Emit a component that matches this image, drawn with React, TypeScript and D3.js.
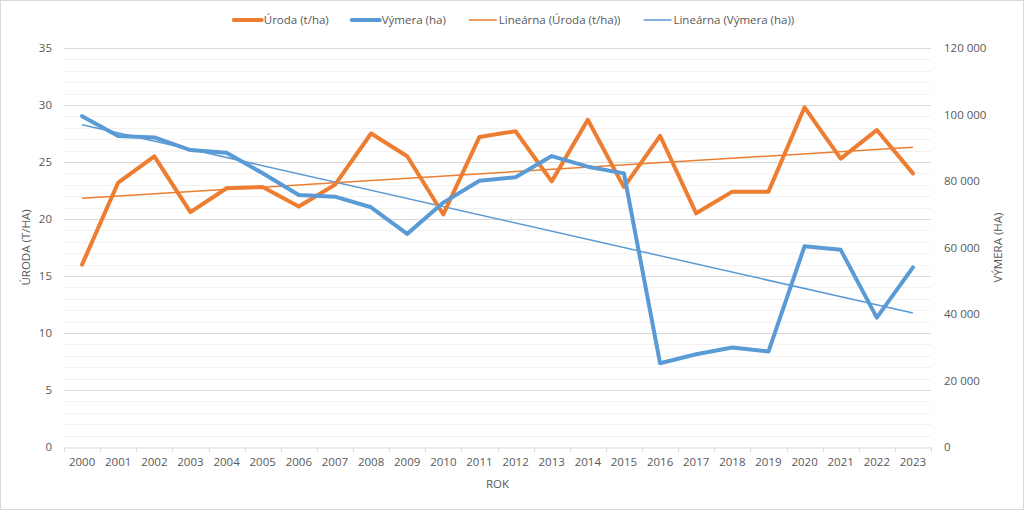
import { useEffect, useRef } from "react";
import * as d3 from "d3";

// Years on the category axis
const years = [
  2000, 2001, 2002, 2003, 2004, 2005, 2006, 2007, 2008, 2009, 2010, 2011,
  2012, 2013, 2014, 2015, 2016, 2017, 2018, 2019, 2020, 2021, 2022, 2023,
];

// Úroda (t/ha), left axis
const uroda = [
  16.0, 23.2, 25.5, 20.6, 22.7, 22.8, 21.1, 23.0, 27.5, 25.5, 20.4, 27.2,
  27.7, 23.3, 28.7, 22.8, 27.3, 20.5, 22.4, 22.4, 29.8, 25.3, 27.8, 24.0,
];

// Výmera (ha), right axis
const vymera = [
  99500, 93500, 93100, 89300, 88500, 82300, 75800, 75300, 72100, 64100,
  73500, 80100, 81100, 87500, 84300, 82300, 25200, 27900, 29900, 28700,
  60400, 59300, 38900, 54000,
];

const leftTicks = [0, 5, 10, 15, 20, 25, 30, 35];
const rightTicks = [0, 20000, 40000, 60000, 80000, 100000, 120000];

const ORANGE = "#ED7D31";
const BLUE = "#5B9BD5";
const TEXT = "#595959";
const FONT = "'Open Sans', sans-serif";
const FS = "11.5px";

// least squares fit over category index (like Excel's linear trendline)
const linearFit = (ys: number[]) => {
  const n = ys.length;
  const xs = ys.map((_, i) => i + 1);
  const mx = d3.mean(xs) ?? 0;
  const my = d3.mean(ys) ?? 0;
  let num = 0;
  let den = 0;
  xs.forEach((x, i) => {
    num += (x - mx) * (ys[i] - my);
    den += (x - mx) * (x - mx);
  });
  const b = num / den;
  const a = my - b * mx;
  return [a + b * 1, a + b * n];
};

const App = () => {
  const svgRef = useRef<SVGSVGElement | null>(null);

  useEffect(() => {
    const width = 1024;
    const height = 510;
    const plot = { left: 64, right: 931, top: 48, bottom: 447 };

    const svg = d3.select(svgRef.current);
    svg.selectAll("*").remove();

    svg
      .append("rect")
      .attr("x", 0.5)
      .attr("y", 0.5)
      .attr("width", width - 1)
      .attr("height", height - 1)
      .attr("fill", "white")
      .attr("stroke", "#d9d9d9");

    const x = d3
      .scaleBand<number>()
      .domain(years)
      .range([plot.left, plot.right])
      .padding(0);
    const cx = (yr: number) => (x(yr) ?? 0) + x.bandwidth() / 2;

    const yLeft = d3
      .scaleLinear()
      .domain([0, 35])
      .range([plot.bottom, plot.top]);
    const yRight = d3
      .scaleLinear()
      .domain([0, 120000])
      .range([plot.bottom, plot.top]);

    // minor grid every 1 t/ha
    const minor = d3.range(1, 35).filter((v) => v % 5 !== 0);
    svg
      .append("g")
      .selectAll("line")
      .data(minor)
      .join("line")
      .attr("x1", plot.left)
      .attr("x2", plot.right)
      .attr("y1", (d) => Math.round(yLeft(d)) + 0.5)
      .attr("y2", (d) => Math.round(yLeft(d)) + 0.5)
      .attr("stroke", "#f2f2f2");

    svg
      .append("g")
      .selectAll("line")
      .data(leftTicks.filter((d) => d > 0))
      .join("line")
      .attr("x1", plot.left)
      .attr("x2", plot.right)
      .attr("y1", (d) => Math.round(yLeft(d)) + 0.5)
      .attr("y2", (d) => Math.round(yLeft(d)) + 0.5)
      .attr("stroke", "#d9d9d9");

    // x axis
    const xAxis = d3.axisBottom(x).tickSize(0).tickPadding(10);
    svg
      .append("g")
      .attr("transform", `translate(0,${plot.bottom + 0.5})`)
      .call(xAxis)
      .call((g) => {
        g.select(".domain").attr("stroke", "#d9d9d9");
        g.selectAll("text")
          .attr("fill", TEXT)
          .style("font-family", FONT)
          .style("font-size", FS);
      });
    svg
      .append("g")
      .selectAll("line")
      .data(d3.range(years.length + 1))
      .join("line")
      .attr("x1", (i) => Math.round(plot.left + i * x.step()) + 0.5)
      .attr("x2", (i) => Math.round(plot.left + i * x.step()) + 0.5)
      .attr("y1", plot.bottom)
      .attr("y2", plot.bottom + 5)
      .attr("stroke", "#d9d9d9");

    // left axis
    const yAxisL = d3.axisLeft(yLeft).tickValues(leftTicks).tickSize(0).tickPadding(12);
    svg
      .append("g")
      .attr("transform", `translate(${plot.left},0)`)
      .call(yAxisL)
      .call((g) => {
        g.select(".domain").remove();
        g.selectAll("text")
          .attr("fill", TEXT)
          .style("font-family", FONT)
          .style("font-size", FS);
      });

    // right axis, space as thousands separator
    const fmt = d3
      .formatLocale({ thousands: " ", grouping: [3], decimal: ",", currency: ["", ""] })
      .format(",");
    const yAxisR = d3
      .axisRight(yRight)
      .tickValues(rightTicks)
      .tickFormat((d) => fmt(d as number))
      .tickSize(0)
      .tickPadding(13);
    svg
      .append("g")
      .attr("transform", `translate(${plot.right},0)`)
      .call(yAxisR)
      .call((g) => {
        g.select(".domain").remove();
        g.selectAll("text")
          .attr("fill", TEXT)
          .style("font-family", FONT)
          .style("font-size", FS);
      });

    // axis titles
    svg
      .append("text")
      .attr("transform", `translate(30,${(plot.top + plot.bottom) / 2}) rotate(-90)`)
      .attr("text-anchor", "middle")
      .attr("fill", TEXT)
      .style("font-family", FONT)
      .style("font-size", FS)
      .text("ÚRODA (T/HA)");
    svg
      .append("text")
      .attr("transform", `translate(1002,${(plot.top + plot.bottom) / 2}) rotate(-90)`)
      .attr("text-anchor", "middle")
      .attr("fill", TEXT)
      .style("font-family", FONT)
      .style("font-size", FS)
      .text("VÝMERA (HA)");
    svg
      .append("text")
      .attr("x", (plot.left + plot.right) / 2)
      .attr("y", 488)
      .attr("text-anchor", "middle")
      .attr("fill", TEXT)
      .style("font-family", FONT)
      .style("font-size", FS)
      .text("ROK");

    // trend lines
    const [u0, u1] = linearFit(uroda);
    const [v0, v1] = linearFit(vymera);
    svg
      .append("line")
      .attr("x1", cx(years[0]))
      .attr("x2", cx(years[years.length - 1]))
      .attr("y1", yLeft(u0))
      .attr("y2", yLeft(u1))
      .attr("stroke", ORANGE)
      .attr("stroke-width", 1.5);
    svg
      .append("line")
      .attr("x1", cx(years[0]))
      .attr("x2", cx(years[years.length - 1]))
      .attr("y1", yRight(v0))
      .attr("y2", yRight(v1))
      .attr("stroke", BLUE)
      .attr("stroke-width", 1.5);

    // series lines
    const lineL = d3
      .line<number>()
      .x((_, i) => cx(years[i]))
      .y((d) => yLeft(d));
    const lineR = d3
      .line<number>()
      .x((_, i) => cx(years[i]))
      .y((d) => yRight(d));

    svg
      .append("path")
      .datum(uroda)
      .attr("d", lineL)
      .attr("fill", "none")
      .attr("stroke", ORANGE)
      .attr("stroke-width", 4)
      .attr("stroke-linejoin", "round")
      .attr("stroke-linecap", "round");
    svg
      .append("path")
      .datum(vymera)
      .attr("d", lineR)
      .attr("fill", "none")
      .attr("stroke", BLUE)
      .attr("stroke-width", 4)
      .attr("stroke-linejoin", "round")
      .attr("stroke-linecap", "round");

    // legend
    const legendItems = [
      { label: "Úroda (t/ha)", color: ORANGE, w: 4 },
      { label: "Výmera (ha)", color: BLUE, w: 4 },
      { label: "Lineárna (Úroda (t/ha))", color: ORANGE, w: 1.5 },
      { label: "Lineárna (Výmera (ha))", color: BLUE, w: 1.5 },
    ];
    const legend = svg.append("g");
    const lineLen = 28;
    const gapText = 2;
    const gapItem = 23;
    let cursor = 0;
    legendItems.forEach((item) => {
      const g = legend.append("g").attr("transform", `translate(${cursor},0)`);
      g.append("line")
        .attr("x1", 0)
        .attr("x2", lineLen)
        .attr("y1", 0)
        .attr("y2", 0)
        .attr("stroke", item.color)
        .attr("stroke-width", item.w)
        .attr("stroke-linecap", item.w > 2 ? "round" : "butt");
      const t = g
        .append("text")
        .attr("x", lineLen + gapText)
        .attr("y", 4)
        .attr("fill", TEXT)
        .style("font-family", FONT)
        .style("font-size", FS)
        .text(item.label);
      const tw = (t.node() as SVGTextElement).getComputedTextLength();
      cursor += lineLen + gapText + tw + gapItem;
    });
    const total = cursor - gapItem;
    legend.attr("transform", `translate(${514 - total / 2},20)`);
  }, []);

  return (
    <svg
      ref={svgRef}
      width={1024}
      height={510}
      style={{ position: "fixed", left: 0, top: 0, display: "block" }}
    />
  );
};

export default App;
